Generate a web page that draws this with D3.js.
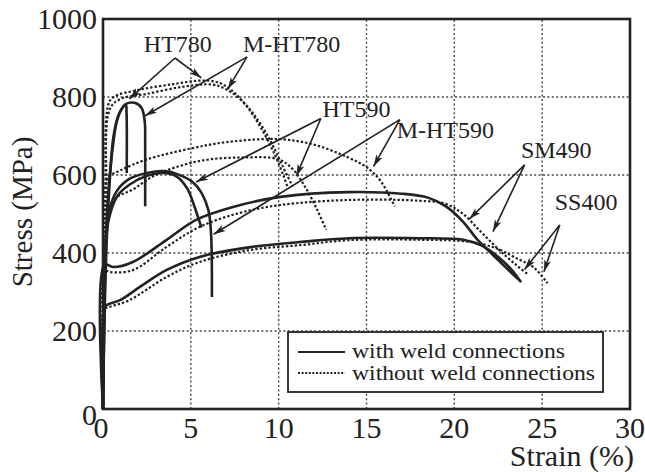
<!DOCTYPE html>
<html>
<head>
<meta charset="utf-8">
<script src="https://cdn.jsdelivr.net/npm/d3@7"></script>
<style>
  body { margin: 0; background: #fff; }
  text { font-family: "Liberation Serif", "Times New Roman", serif; fill: #222; }
</style>
</head>
<body>
<div id="svg"></div>
<script>
// axis ticks
var strainTicks = [0, 5, 10, 15, 20, 25, 30];
var stressTicks = [0, 200, 400, 600, 800, 1000];

// curves: [strain %, stress MPa]
var ht780Weld1 = [[0,0],[0.1,300],[0.25,520],[0.5,650],[0.8,740],[1.1,772],[1.3,780],[1.34,760],[1.35,605]];
var ht780Weld2 = [[0,0],[0.15,350],[0.35,560],[0.6,700],[0.9,755],[1.3,782],[1.8,785],[2.2,772],[2.38,735],[2.4,690],[2.4,520]];
var ht780Plain = [[0,0],[0.15,500],[0.3,780],[0.6,800],[2,818],[4,833],[5.5,842],[6.5,838],[7.3,818],[8.2,775],[9,720],[9.8,650],[10.3,595],[10.5,570]];
var mht780Plain = [[0,0],[0.2,500],[0.4,770],[1,795],[2.5,808],[4.5,826],[6.2,832],[7,820],[7.8,795],[8.6,755],[9.5,690],[10.2,625],[10.8,570]];

var ht590WeldA = [[0,0],[0.1,350],[0.3,480],[0.8,545],[1.5,575],[2.5,598],[3.4,605],[4.2,596],[4.8,565],[5.2,520],[5.6,465]];
var ht590WeldB = [[0,0],[0.1,380],[0.3,500],[0.8,560],[1.5,590],[2.5,605],[3.5,610],[4.3,601],[5.1,582],[5.6,555],[6.0,510],[6.15,450],[6.2,287]];
var ht590Plain = [[0,0],[0.1,400],[0.3,500],[0.7,540],[1.7,563],[3,600],[5.5,636],[8,645],[10,640],[10.8,615],[11.5,570],[12.2,510],[12.7,460]];
var mht590Plain = [[0,0],[0.1,450],[0.25,590],[1,612],[2.5,640],[5,668],[7,684],[10,692],[12,678],[13.9,646],[15,620],[15.8,585],[16.6,520]];

var sm490Weld = [[0,0],[0.08,370],[0.57,364],[1.7,377],[3.6,433],[5.3,485],[7.4,518],[10.1,544],[14,556],[17,552],[18.5,542],[19.5,520],[20.5,480],[21.3,435],[22.2,395],[23,360],[23.7,330]];
var sm490Plain = [[0,0],[0.08,355],[0.4,351],[1.7,356],[3.6,415],[5.5,467],[7.8,503],[10.1,523],[14,536],[18,534],[19.5,526],[20.5,500],[21.5,455],[22.5,410],[23.5,370],[24.2,345]];
var ss400Weld = [[0,0],[0.08,260],[0.23,267],[0.97,279],[2.1,313],[3.6,356],[5.5,390],[8.4,415],[11.2,428],[14,438],[18,438],[20.5,434],[21.5,420],[22.5,390],[23.3,355],[23.8,325]];
var ss400Plain = [[0,0],[0.08,255],[0.4,262],[1.5,279],[3.6,338],[5.5,377],[8.4,408],[11.2,420],[14,433],[18,434],[21,428],[22.5,410],[23.6,385],[24.5,364],[25.3,323]];

var solidCurves = [ht780Weld1, ht780Weld2, ht590WeldA, ht590WeldB, sm490Weld, ss400Weld];
var dottedCurves = [ht780Plain, mht780Plain, ht590Plain, mht590Plain, sm490Plain, ss400Plain];

// annotation labels: text, strain, stress at baseline centre
var labelNames = ["HT780", "M-HT780", "HT590", "M-HT590", "SM490", "SS400"];
var labelStrain = [4.26, 10.74, 14.43, 19.49, 25.8, 27.5];
var labelStress = [915, 915, 749, 695, 644, 510];
// arrows: from [strain, stress] to [strain, stress]
var arrows = [
  [[4.1, 900], [1.5, 795]], [[4.1, 900], [5.6, 849]],
  [[8.2, 903], [2.4, 752]], [[8.2, 903], [7.1, 820]],
  [[12.4, 745], [5.3, 582]], [[12.4, 745], [11.0, 597]],
  [[16.9, 742], [15.4, 622]], [[16.9, 742], [6.3, 448]],
  [[24.0, 626], [20.85, 487]], [[24.0, 626], [22.2, 455]],
  [[26.0, 472], [24.0, 358]], [[26.0, 472], [25.1, 352]]
];
var legendNames = ["with weld connections", "without weld connections"];

var W = 645, H = 472;
var svg = d3.select("#svg").append("svg")
  .attr("width", W).attr("height", H);

var x = d3.scaleLinear().domain([0, 30]).range([103, 630]);
var y = d3.scaleLinear().domain([0, 1000]).range([409, 19]);

var ink = "#222";

// grid
svg.append("g").selectAll("line").data(strainTicks.slice(1, -1)).enter().append("line")
  .attr("x1", function(d) { return x(d); }).attr("x2", function(d) { return x(d); })
  .attr("y1", y(0)).attr("y2", y(1000))
  .style("stroke", "#444").style("stroke-width", 1.4).style("stroke-dasharray", "2,2.4");
svg.append("g").selectAll("line").data(stressTicks.slice(1, -1)).enter().append("line")
  .attr("y1", function(d) { return y(d); }).attr("y2", function(d) { return y(d); })
  .attr("x1", x(0)).attr("x2", x(30))
  .style("stroke", "#444").style("stroke-width", 1.4).style("stroke-dasharray", "2,2.4");

// curves
var line = d3.line()
  .x(function(d) { return x(d[0]); })
  .y(function(d) { return y(d[1]); })
  .curve(d3.curveCatmullRom.alpha(0.5));

svg.append("g").selectAll("path").data(dottedCurves).enter().append("path")
  .attr("d", line)
  .style("fill", "none").style("stroke", ink)
  .style("stroke-width", 2.2).style("stroke-dasharray", "2.4,2");

svg.append("g").selectAll("path").data(solidCurves).enter().append("path")
  .attr("d", line)
  .style("fill", "none").style("stroke", ink)
  .style("stroke-width", 2.6).style("stroke-linejoin", "round");

// frame
svg.append("rect")
  .attr("x", x(0)).attr("y", y(1000))
  .attr("width", x(30) - x(0)).attr("height", y(0) - y(1000))
  .style("fill", "none").style("stroke", ink).style("stroke-width", 2.6);

// tick labels
svg.append("g").selectAll("text").data(stressTicks).enter().append("text")
  .attr("x", 97)
  .attr("y", function(d) { return y(d) + (d === 0 ? 16 : 10); })
  .attr("text-anchor", "end")
  .style("font-size", "30px")
  .text(function(d) { return d; });

svg.append("g").selectAll("text").data(strainTicks).enter().append("text")
  .attr("x", function(d) { return d === 0 ? x(d) - 2 : x(d); })
  .attr("y", 438)
  .attr("text-anchor", "middle")
  .style("font-size", "30px")
  .text(function(d) { return d; });

// axis titles
svg.append("text")
  .attr("transform", "translate(32," + 212 + ") rotate(-90)")
  .attr("text-anchor", "middle")
  .style("font-size", "29px")
  .text("Stress (MPa)");

svg.append("text")
  .attr("x", 634).attr("y", 466)
  .attr("text-anchor", "end")
  .style("font-size", "30px")
  .text("Strain (%)");

// arrows
svg.append("defs").append("marker")
  .attr("id", "arrow")
  .attr("markerWidth", 14).attr("markerHeight", 8)
  .attr("refX", 12).attr("refY", 4)
  .attr("orient", "auto")
  .attr("markerUnits", "userSpaceOnUse")
  .append("path")
  .attr("d", "M0,0.5 L12,4 L0,7.5 L3,4 z")
  .style("fill", ink);

svg.append("g").selectAll("line").data(arrows).enter().append("line")
  .attr("x1", function(d) { return x(d[0][0]); })
  .attr("y1", function(d) { return y(d[0][1]); })
  .attr("x2", function(d) { return x(d[1][0]); })
  .attr("y2", function(d) { return y(d[1][1]); })
  .style("stroke", ink).style("stroke-width", 1.6)
  .attr("marker-end", "url(#arrow)");

svg.append("g").selectAll("text").data(labelNames).enter().append("text")
  .attr("x", function(d, i) { return x(labelStrain[i]); })
  .attr("y", function(d, i) { return y(labelStress[i]); })
  .attr("text-anchor", "middle")
  .style("font-size", "24px")
  .text(function(d) { return d; });

// legend
var leg = svg.append("g");
leg.append("rect")
  .attr("x", 288).attr("y", 332).attr("width", 315).attr("height", 60)
  .style("fill", "#fff").style("stroke", ink).style("stroke-width", 1.8);
leg.append("line").attr("x1", 298).attr("x2", 345).attr("y1", 352).attr("y2", 352)
  .style("stroke", ink).style("stroke-width", 2.2);
leg.append("line").attr("x1", 298).attr("x2", 345).attr("y1", 373).attr("y2", 373)
  .style("stroke", ink).style("stroke-width", 2).style("stroke-dasharray", "2,1.6");
leg.selectAll("text.l").data(legendNames).enter().append("text")
  .attr("class", "l")
  .attr("x", 352)
  .attr("y", function(d, i) { return 358 + i * 22; })
  .attr("textLength", function(d, i) { return i === 0 ? 213 : 243; })
  .attr("lengthAdjust", "spacingAndGlyphs")
  .style("font-size", "21px")
  .text(function(d) { return d; });
</script>
</body>
</html>
